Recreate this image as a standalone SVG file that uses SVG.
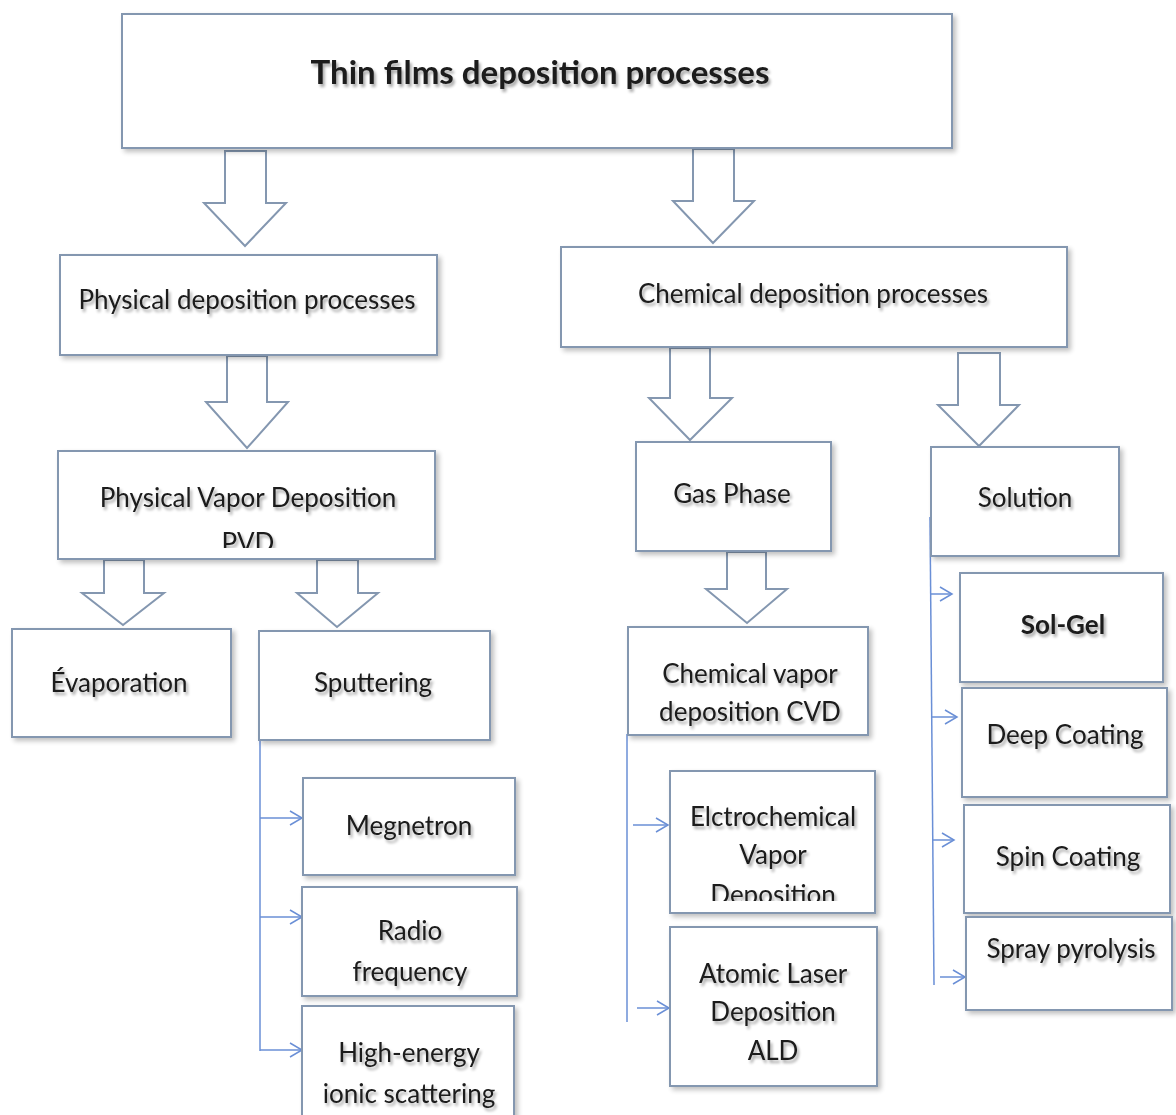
<svg xmlns="http://www.w3.org/2000/svg" width="1176" height="1115" viewBox="0 0 1176 1115">
<defs>
<style>
.box{fill:#fff;stroke:#8497b0;stroke-width:2;filter:url(#bs)}
.blk{fill:#fff;stroke:#8497b0;stroke-width:2;stroke-linejoin:miter}
.t{font-family:Lato,"Open Sans",sans-serif;font-size:26px;fill:#1a1a1a;text-anchor:middle;filter:url(#ts)}
.b{font-weight:bold}
.h{font-size:33px}
.con{fill:none;stroke:#6a8fd6;stroke-width:1.5}
</style>
<filter id="bs" x="-5%" y="-5%" width="115%" height="120%">
<feGaussianBlur in="SourceAlpha" stdDeviation="2.5"/>
<feOffset dx="3" dy="3" result="o"/>
<feComponentTransfer><feFuncA type="linear" slope="0.25"/></feComponentTransfer>
<feMerge><feMergeNode/><feMergeNode in="SourceGraphic"/></feMerge>
</filter>
<filter id="ts" x="-10%" y="-30%" width="120%" height="170%">
<feGaussianBlur in="SourceAlpha" stdDeviation="1.8"/>
<feOffset dx="2" dy="3" result="o"/>
<feComponentTransfer><feFuncA type="linear" slope="0.35"/></feComponentTransfer>
<feMerge><feMergeNode/><feMergeNode in="SourceGraphic"/></feMerge>
</filter>
<marker id="oa" markerUnits="userSpaceOnUse" markerWidth="16" markerHeight="18" refX="13" refY="8" orient="auto">
<path d="M1,1 L13,8 L1,15" fill="none" stroke="#6a8fd6" stroke-width="1.5"/>
</marker>
<clipPath id="cPVD"><rect x="58" y="451" width="378" height="97"/></clipPath>
<clipPath id="cECV"><rect x="670" y="771" width="205" height="130"/></clipPath>
</defs>
<rect width="1176" height="1115" fill="#fff"/>

<g id="connectors">
<polygon class="blk" points="225,151 266,151 266,203 286,203 245,246 204,203 225,203"/>
<polygon class="blk" points="693,149 734,149 734,201 754,201 713,243 673,201 693,201"/>
<polygon class="blk" points="227,356 267,356 267,402 288,402 247,448 206,402 227,402"/>
<polygon class="blk" points="670,348 710,348 710,398 732,398 690,440 649,398 670,398"/>
<polygon class="blk" points="958,353 1000,353 1000,405 1019,405 979,446 938,405 958,405"/>
<polygon class="blk" points="104,560 144,560 144,593 164,593 123,625 82,593 104,593"/>
<polygon class="blk" points="317,560 358,560 358,593 378,593 337,627 297,593 317,593"/>
<polygon class="blk" points="727,552 766,552 766,589 787,589 747,623 706,589 727,589"/>
<path class="con" d="M260,731 L260,1051"/>
<path class="con" d="M260,818 L302,818" marker-end="url(#oa)"/>
<path class="con" d="M260,917 L302,917" marker-end="url(#oa)"/>
<path class="con" d="M260,1050 L302,1050" marker-end="url(#oa)"/>
<path class="con" d="M627,734 L627,1022"/>
<path class="con" d="M633,825 L668,825" marker-end="url(#oa)"/>
<path class="con" d="M637,1008 L669,1008" marker-end="url(#oa)"/>
<path class="con" d="M930,517 L934,985"/>
<path class="con" d="M931,594 L952,594" marker-end="url(#oa)"/>
<path class="con" d="M932,717 L957,717" marker-end="url(#oa)"/>
<path class="con" d="M933,840 L954,840" marker-end="url(#oa)"/>
<path class="con" d="M940,977 L965,977" marker-end="url(#oa)"/>
</g>

<g id="n-title"><rect class="box" x="122" y="14" width="830" height="134"/><text class="t b h" x="540" y="84">Thin films deposition processes</text></g>
<g id="n-physical"><rect class="box" x="60" y="255" width="377" height="100"/><text class="t" x="247" y="309">Physical deposition processes</text></g>
<g id="n-chemical"><rect class="box" x="561" y="247" width="506" height="100"/><text class="t" x="813" y="303">Chemical deposition processes</text></g>
<g id="n-pvd"><rect class="box" x="58" y="451" width="377" height="108"/><g clip-path="url(#cPVD)"><text class="t" x="248" y="507">Physical Vapor Deposition</text><text class="t" x="248" y="552">PVD</text></g></g>
<g id="n-gas"><rect class="box" x="636" y="442" width="195" height="109"/><text class="t" x="732" y="503">Gas Phase</text></g>
<g id="n-solution"><rect class="box" x="931" y="447" width="188" height="109"/><text class="t" x="1025" y="507">Solution</text></g>
<g id="n-evap"><rect class="box" x="12" y="629" width="219" height="108"/><text class="t" x="119" y="692">Évaporation</text></g>
<g id="n-sputter"><rect class="box" x="259" y="631" width="231" height="109"/><text class="t" x="373" y="692">Sputtering</text></g>
<g id="n-cvd"><rect class="box" x="628" y="627" width="240" height="108"/><text class="t" x="750" y="683">Chemical vapor</text><text class="t" x="750" y="721">deposition CVD</text></g>
<g id="n-megnetron"><rect class="box" x="303" y="778" width="212" height="97"/><text class="t" x="409" y="835">Megnetron</text></g>
<g id="n-radio"><rect class="box" x="302" y="887" width="215" height="109"/><text class="t" x="410" y="940">Radio</text><text class="t" x="410" y="981">frequency</text></g>
<g id="n-highenergy"><rect class="box" x="302" y="1006" width="212" height="120"/><text class="t" x="409" y="1062">High-energy</text><text class="t" x="409" y="1103">ionic scattering</text></g>
<g id="n-ecvd"><rect class="box" x="670" y="771" width="205" height="142"/><text class="t" x="773" y="826">Elctrochemical</text><g clip-path="url(#cECV)"><text class="t" x="773" y="864">Vapor</text><text class="t" x="773" y="904">Deposition</text></g></g>
<g id="n-ald"><rect class="box" x="670" y="927" width="207" height="159"/><text class="t" x="773" y="983">Atomic Laser</text><text class="t" x="773" y="1021">Deposition</text><text class="t" x="773" y="1060">ALD</text></g>
<g id="n-solgel"><rect class="box" x="960" y="573" width="203" height="109"/><text class="t b" x="1063" y="634">Sol-Gel</text></g>
<g id="n-deep"><rect class="box" x="962" y="688" width="205" height="109"/><text class="t" x="1065" y="744">Deep Coating</text></g>
<g id="n-spin"><rect class="box" x="964" y="805" width="206" height="108"/><text class="t" x="1068" y="866">Spin Coating</text></g>
<g id="n-spray"><rect class="box" x="966" y="917" width="206" height="93"/><text class="t" x="1071" y="958">Spray pyrolysis</text></g>
</svg>
